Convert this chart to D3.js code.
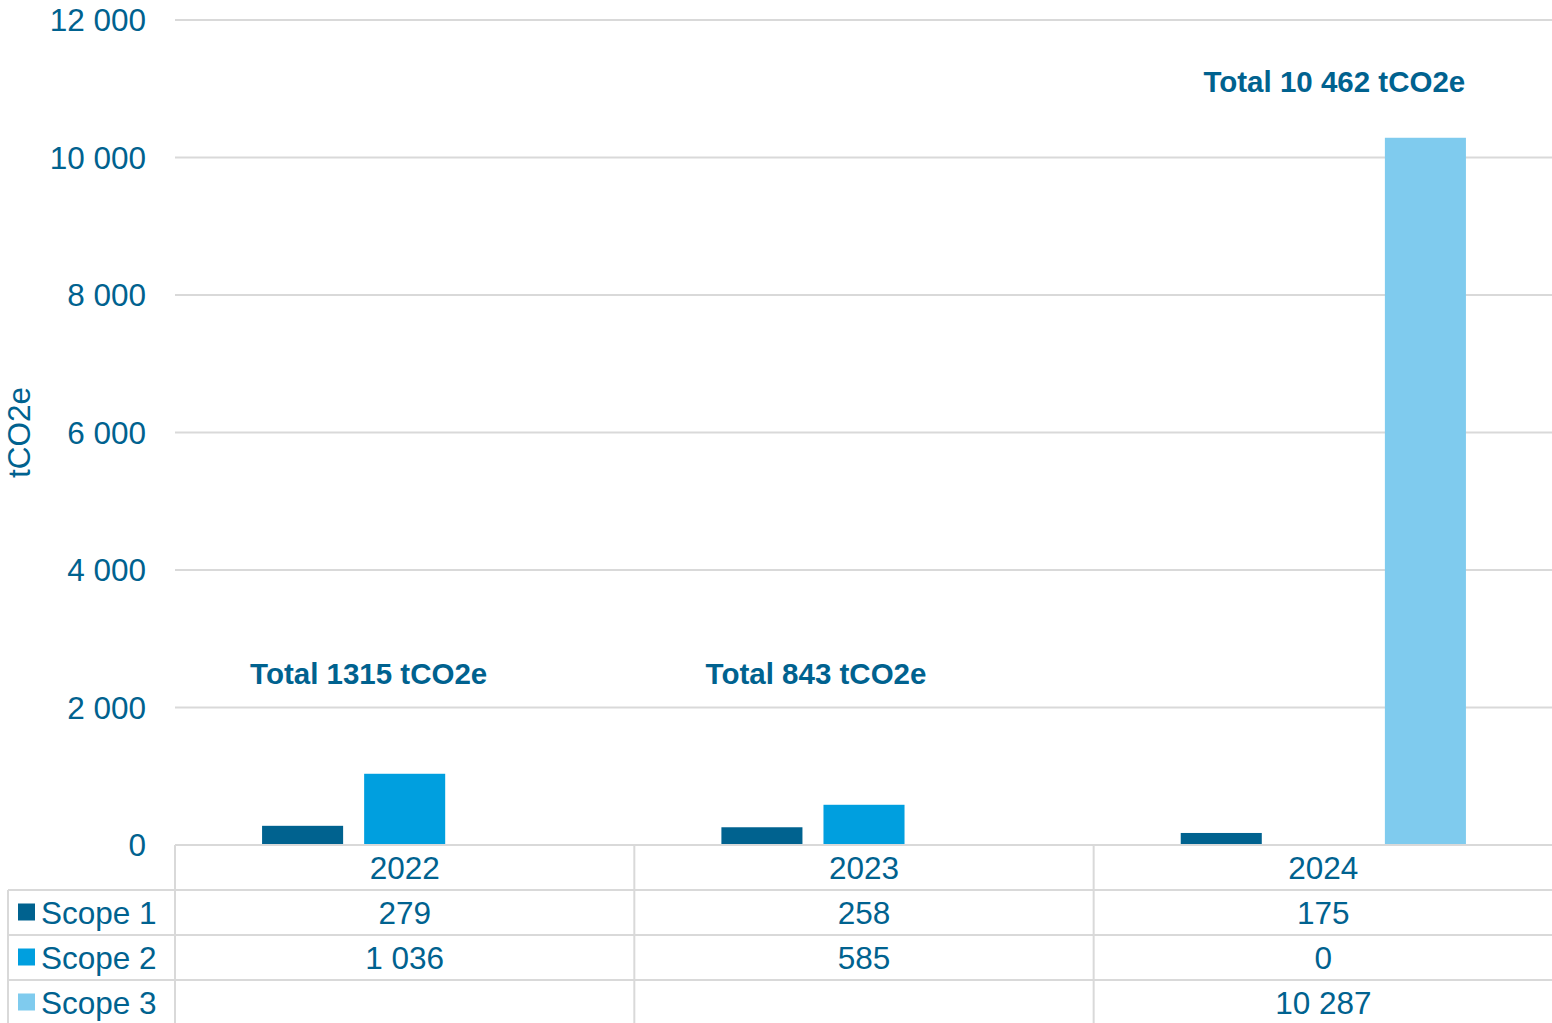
<!DOCTYPE html>
<html lang="en">
    <head>
        <meta charset="UTF-8" />
        <title>tCO2e by scope</title>
        <script src="https://d3js.org/d3.v7.min.js"></script>
        <style>
            body {
                margin: 0;
                background: #fff;
                font-family: "Liberation Sans", Arial, sans-serif;
            }
            svg text {
                fill: #00628f;
            }
        </style>
    </head>
    <body>
        <svg width="1552" height="1023"></svg>

        <script>
            const years = ["2022", "2023", "2024"];
            const seriesNames = ["Scope 1", "Scope 2", "Scope 3"];
            const scope1 = [279, 258, 175];
            const scope2 = [1036, 585, 0];
            const scope3 = [null, null, 10287];
            const totals = ["Total 1315 tCO2e", "Total 843 tCO2e", "Total 10 462 tCO2e"];
            const yTicks = [0, 2000, 4000, 6000, 8000, 10000, 12000];
            const colors = ["#00628f", "#009fdf", "#7fcbee"];

            const series = [scope1, scope2, scope3];
            const fmt = (v) => d3.format(",")(v).replace(/,/g, " ");

            const svg = d3.select("svg");
            const plotLeft = 175,
                plotRight = 1553,
                plotTop = 20,
                plotBottom = 845,
                rowH = 45,
                tableLeft = 8,
                fs = "31.5px";

            const x = d3.scaleBand().domain(years).range([plotLeft, plotRight]);
            const xInner = d3
                .scaleBand()
                .domain(seriesNames)
                .range([0, x.bandwidth()])
                .paddingInner(0.206)
                .paddingOuter(0.853);
            const y = d3.scaleLinear().domain([0, 12000]).range([plotBottom, plotTop]);

            // gridlines
            svg.append("g")
                .selectAll("line")
                .data(yTicks.filter((d) => d > 0))
                .join("line")
                .attr("x1", plotLeft)
                .attr("x2", plotRight)
                .attr("y1", (d) => y(d))
                .attr("y2", (d) => y(d))
                .attr("stroke", "#d9d9d9")
                .attr("stroke-width", 2);

            // y tick labels
            svg.append("g")
                .selectAll("text")
                .data(yTicks)
                .join("text")
                .attr("x", 146)
                .attr("y", (d) => y(d))
                .attr("dy", "0.35em")
                .attr("text-anchor", "end")
                .style("font-size", fs)
                .text(fmt);

            svg.append("text")
                .attr("transform", `translate(30, ${(plotTop + plotBottom) / 2}) rotate(-90)`)
                .attr("text-anchor", "middle")
                .style("font-size", fs)
                .text("tCO2e");

            // bars
            const flat = [];
            series.forEach((vals, si) =>
                vals.forEach((v, yi) => {
                    if (v !== null) flat.push({ year: years[yi], name: seriesNames[si], v, si });
                })
            );
            svg.append("g")
                .selectAll("rect")
                .data(flat)
                .join("rect")
                .attr("x", (d) => x(d.year) + xInner(d.name))
                .attr("width", xInner.bandwidth())
                .attr("y", (d) => y(d.v))
                .attr("height", (d) => y(0) - y(d.v))
                .attr("fill", (d) => colors[d.si]);

            // total annotations
            const totalPos = [
                { dx: -36, v: 2167 },
                { dx: -48, v: 2167 },
                { dx: 11, v: 10778 },
            ];
            svg.append("g")
                .selectAll("text")
                .data(totals)
                .join("text")
                .attr("x", (d, i) => x(years[i]) + x.bandwidth() / 2 + totalPos[i].dx)
                .attr("y", (d, i) => y(totalPos[i].v) - 12)
                .attr("text-anchor", "middle")
                .style("font-size", "29.5px")
                .style("font-weight", "bold")
                .text((d) => d);

            // data table
            const grid = svg.append("g").attr("stroke", "#d9d9d9").attr("stroke-width", 2);
            grid.append("line").attr("x1", plotLeft).attr("x2", plotRight).attr("y1", plotBottom).attr("y2", plotBottom);
            [1, 2, 3].forEach((r) =>
                grid.append("line")
                    .attr("x1", tableLeft)
                    .attr("x2", plotRight)
                    .attr("y1", plotBottom + r * rowH)
                    .attr("y2", plotBottom + r * rowH)
            );
            grid.append("line").attr("x1", tableLeft).attr("x2", tableLeft).attr("y1", plotBottom + rowH).attr("y2", 1023);
            years.forEach((yr) =>
                grid.append("line").attr("x1", x(yr)).attr("x2", x(yr)).attr("y1", plotBottom).attr("y2", 1023)
            );

            svg.append("g")
                .selectAll("text")
                .data(years)
                .join("text")
                .attr("x", (d) => x(d) + x.bandwidth() / 2)
                .attr("y", plotBottom + rowH / 2)
                .attr("dy", "0.35em")
                .attr("text-anchor", "middle")
                .style("font-size", fs)
                .text((d) => d);

            series.forEach((vals, si) => {
                const rowY = plotBottom + (si + 1) * rowH + rowH / 2;
                svg.append("rect")
                    .attr("x", 18)
                    .attr("y", rowY - 9)
                    .attr("width", 17)
                    .attr("height", 17)
                    .attr("fill", colors[si]);
                svg.append("text")
                    .attr("x", 41)
                    .attr("y", rowY)
                    .attr("dy", "0.35em")
                    .style("font-size", fs)
                    .text(seriesNames[si]);
                vals.forEach((v, yi) => {
                    if (v === null) return;
                    svg.append("text")
                        .attr("x", x(years[yi]) + x.bandwidth() / 2)
                        .attr("y", rowY)
                        .attr("dy", "0.35em")
                        .attr("text-anchor", "middle")
                        .style("font-size", fs)
                        .text(fmt(v));
                });
            });
        </script>
    </body>
</html>
